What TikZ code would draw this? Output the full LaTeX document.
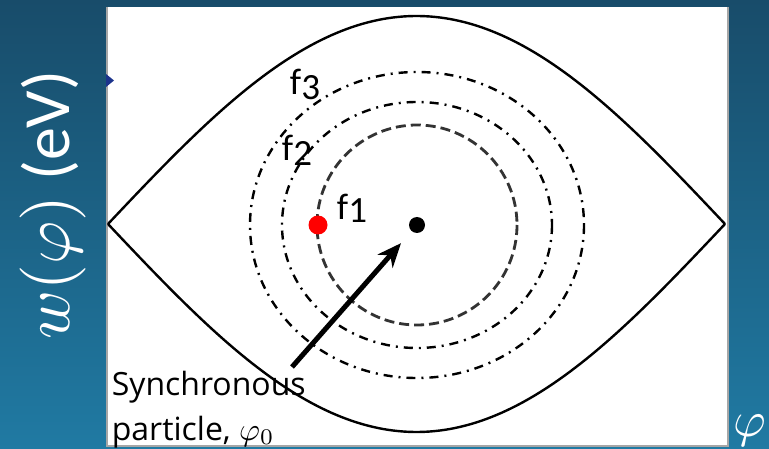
\documentclass[tikz,border=0pt]{standalone}
\usepackage{fontspec}
\setmainfont{Carlito}
\newfontfamily\notefont{Open Sans}
\usetikzlibrary{positioning, arrows.meta, calc}
\definecolor{bgtop}{RGB}{24,76,106}
\definecolor{bgbot}{RGB}{32,122,163}
\definecolor{marknavy}{RGB}{28,52,140}

\begin{document}
\begin{tikzpicture}[
    x=1pt, y=-1pt,          % 1 unit = 1 pixel of the reference, y downward
    >=Stealth,
    line width=2.4pt,
    black_dot/.style={circle, fill=black, inner sep=0pt, minimum size=16pt},
    red_dot/.style={circle, fill=red, inner sep=0pt, minimum size=19pt},
    f_label/.style={font=\fontsize{37}{40}\selectfont, inner sep=0pt},
    note_text/.style={anchor=base west, inner sep=0pt, font=\notefont, scale=3.2},
    dashdot_ring/.style={dash pattern=on 9pt off 6pt on 2pt off 6pt}
]
    \useasboundingbox (0,0) rectangle (769,449);

    % --- 1. background and white frame ---
    \shade [top color=bgtop, bottom color=bgbot] (0,0) rectangle (769,449);
    \fill [white] (107,7) rectangle (728,446);
    \draw [gray!70, line width=1.5pt] (107,7) -- (107,446) -- (728,446) -- (728,7);
    \fill [marknavy] (106,74) -- (114,80.5) -- (106,87) -- cycle;

    % axis labels (math is scaled, the font sizes of cm math are fixed)
    \node [white, rotate=90, scale=6.6, inner sep=0pt] (wlabel) at (53,205)
        {$w(\varphi)$ (eV)};
    \node [white, scale=5, inner sep=0pt] (philabel) at (750,431) {$\varphi$};

    % --- 2. separatrix ---
    \draw [domain=108:725, samples=120]
        plot (\x, {224 - 208*cos(0.29173*(\x-416.5))});
    \draw [domain=108:725, samples=120]
        plot (\x, {224 + 208*cos(0.29173*(\x-416.5))});

    % --- 3. orbits f1, f2, f3 ---
    \node [black_dot] (sync) at (417,225) {};
    \draw [black!80, line width=2.8pt, dash pattern=on 10pt off 5pt]
        (sync) circle [radius=100];
    \draw [dashdot_ring] (sync) ellipse [x radius=135, y radius=123];
    \draw [dashdot_ring] (sync) ellipse [x radius=167, y radius=153];

    \node [red_dot] (start) at (318,225) {};

    \node [f_label] (f1) at (352,208) {f\raisebox{-3pt}{1}};
    \node [f_label] (f2) at (297,150) {f\raisebox{-5pt}{2}};
    \node [f_label] (f3) at (305,84) {f\raisebox{-5pt}{3}};

    % --- 4. synchronous particle ---
    \node [note_text] (synctext) at (108,395) {Synchronous};
    \node [note_text] (parttext) at (108,440) {particle, $\varphi_0$};
    \coordinate (arrtail) at (292,367);
    \draw [line width=5pt, -{Stealth[length=24pt, width=20pt]}, shorten >=15pt]
        (arrtail) -- (sync);

\end{tikzpicture}
\end{document}
